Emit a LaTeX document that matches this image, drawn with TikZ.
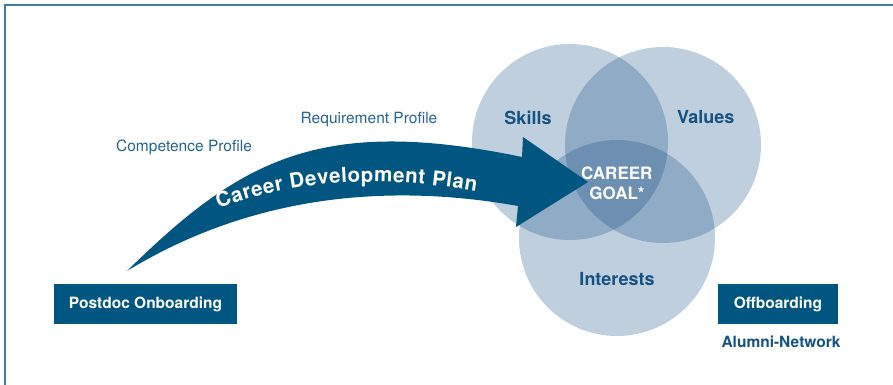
\documentclass[tikz,border=0pt]{standalone}
\usepackage{fontspec}
\setmainfont{TeX Gyre Heros}
\usepackage{tikz}
\usetikzlibrary{
  positioning,
  decorations.text,  % Text along the curved arrow
}
\definecolor{planblue}{RGB}{0,86,129}
\definecolor{labelblue}{RGB}{36,99,146}
\definecolor{keyblue}{RGB}{20,82,130}
\definecolor{framecol}{RGB}{62,122,162}
\definecolor{venncol}{RGB}{3,63,123}
\tikzset{
  x=1pt,
  y=-1pt,
  frame/.style={
    draw=framecol,
    line width=2pt
  },
  venn/.style={
    circle,
    fill=venncol,
    fill opacity=0.25,
    draw=none,
    minimum size=196pt,
    inner sep=0pt
  },
  soft label/.style={
    text=labelblue,
    font=\fontsize{15.5}{18}\selectfont,
    anchor=base
  },
  key label/.style={
    text=keyblue,
    font=\bfseries\fontsize{18}{20}\selectfont,
    anchor=base
  },
  goal label/.style={
    key label,
    text=white,
    font=\bfseries\fontsize{17}{20}\selectfont
  },
  phase box/.style={
    fill=planblue,
    text=white,
    font=\bfseries\fontsize{15.5}{18}\selectfont,
    minimum height=40pt,
    inner sep=0pt
  },
  plan arrow/.style={
    fill=planblue,
    draw=none
  }
}

\begin{document}
\begin{tikzpicture}
\useasboundingbox (0,0) rectangle (893,385);
\draw[frame] (4.5,385) -- (4.5,5.5) -- (893,5.5);

% Venn circles
\node[venn] (skillsC)    at (570,142) {};
\node[venn] (valuesC)    at (663,145) {};
\node[venn] (interestsC) at (617,238) {};

\node[key label] (skills)    at (528,124.3) {Skills};
\node[key label] (values)    at (705.7,123.3) {Values};
\node[key label] (interests) at (617,285) {Interests};

% Arrow
\coordinate (tail)   at (127,271);
\coordinate (shaftT) at (522,157);
\coordinate (headT)  at (523,137);
\coordinate (tip)    at (588,182);
\coordinate (headB)  at (516,227);
\coordinate (shaftB) at (518,206);
\fill[plan arrow] (tail) .. controls (240,160) and (320,115) .. (shaftT)
  -- (headT) -- (tip) -- (headB) -- (shaftB)
  .. controls (400,185) and (260,190) .. (tail) -- cycle;
\path[decorate,decoration={text along path,text align=fit to path,text color=white,
  text={|\bfseries\fontsize{20.5}{21}\selectfont|Career Development Plan}}]
  (219,209) .. controls (265,190) and (350,170) .. (476,191);

\node[goal label] (career) at (616.8,179.3) {CAREER};
\node[goal label] (goal)   at (617,199.3) {GOAL*};

\node[soft label] (req)  at (369,124) {Requirement Profile};
\node[soft label] (comp) at (184,151.5) {Competence Profile};

% Phases
\node[phase box,minimum width=183pt] (onboard)  at (145.5,304) {Postdoc Onboarding};
\node[phase box,minimum width=120pt] (offboard) at (778,304) {Offboarding};
\node[key label,font=\bfseries\fontsize{15.5}{18}\selectfont,anchor=base west]
  (alumni) at (718,347.3) {Alumni-Network};
\end{tikzpicture}
\end{document}
